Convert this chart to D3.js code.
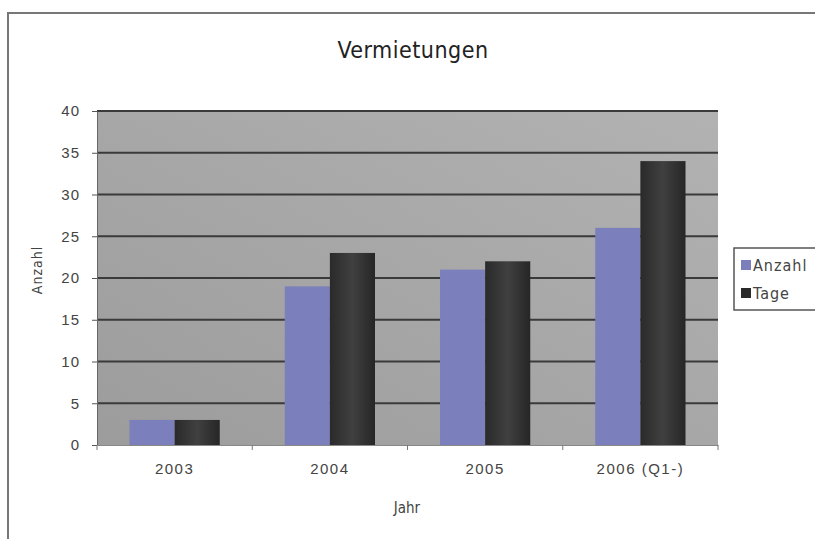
<!DOCTYPE html>
<html>
<head>
<meta charset="utf-8">
<script src="https://cdn.jsdelivr.net/npm/d3@7"></script>
<style>
  body { margin: 0; background: #fff; }
  svg { display: block; font-family: "DejaVu Sans Condensed", "Liberation Sans Narrow", sans-serif; }
</style>
</head>
<body>
<svg id="chart" width="815" height="539"></svg>
<script>
const categories = ['2003', '2004', '2005', '2006 (Q1-)'];
const seriesNames = ['Anzahl', 'Tage'];
const anzahl = [3, 19, 21, 26];
const tage = [3, 23, 22, 34];
const yTicks = [0, 5, 10, 15, 20, 25, 30, 35, 40];

const svg = d3.select('#chart');
const margin = { top: 111, right: 97, bottom: 94, left: 97 };
const width = 815 - margin.left - margin.right;
const height = 539 - margin.top - margin.bottom;

// outer frame
svg.append('rect')
  .attr('x', 8).attr('y', 13)
  .attr('width', 830).attr('height', 560)
  .attr('fill', 'none').attr('stroke', '#777').attr('stroke-width', 2);

const defs = svg.append('defs');
const bg = defs.append('linearGradient').attr('id', 'bg')
  .attr('x1', 0).attr('y1', 1).attr('x2', 1).attr('y2', 0);
bg.append('stop').attr('offset', 0).attr('stop-color', '#9c9c9c');
bg.append('stop').attr('offset', 1).attr('stop-color', '#b2b2b2');

const dark = defs.append('linearGradient').attr('id', 'dark')
  .attr('x1', 0).attr('x2', 1);
dark.append('stop').attr('offset', 0).attr('stop-color', '#2a2a2a');
dark.append('stop').attr('offset', 0.5).attr('stop-color', '#404040');
dark.append('stop').attr('offset', 1).attr('stop-color', '#262626');

const g = svg.append('g').attr('transform', `translate(${margin.left},${margin.top})`);

const x0 = d3.scaleBand().domain(categories).range([0, width]);
const x1 = d3.scaleBand().domain(seriesNames).range([0, x0.bandwidth()]).paddingInner(0).paddingOuter(0.72);
const y = d3.scaleLinear().domain([0, 40]).range([height, 0]);

g.append('rect').attr('width', width).attr('height', height).attr('fill', 'url(#bg)');

// gridlines
g.selectAll('.grid').data(yTicks.slice(1)).enter().append('line')
  .attr('x1', 0).attr('x2', width)
  .attr('y1', d => y(d)).attr('y2', d => y(d))
  .attr('stroke', '#3a3a3a').attr('stroke-width', 2);

const colors = { Anzahl: '#7b7fbb', Tage: 'url(#dark)' };
const data = categories.map((c, i) => ({ cat: c, values: [
  { key: 'Anzahl', v: anzahl[i] }, { key: 'Tage', v: tage[i] }] }));

g.selectAll('.grp').data(data).enter().append('g')
  .attr('transform', d => `translate(${x0(d.cat)},0)`)
  .selectAll('rect').data(d => d.values).enter().append('rect')
  .attr('x', d => x1(d.key))
  .attr('y', d => y(d.v))
  .attr('width', x1.bandwidth())
  .attr('height', d => height - y(d.v))
  .attr('fill', d => colors[d.key]);

// axes
const yAxis = g.append('g').call(d3.axisLeft(y).tickValues(yTicks).tickSize(5).tickSizeOuter(0));
yAxis.select('.domain').attr('stroke', '#666');
yAxis.selectAll('.tick line').attr('stroke', '#555');
yAxis.selectAll('text').attr('font-size', 15).attr('fill', '#444').attr('x', -17)
  .attr('letter-spacing', 1);

const xAxis = g.append('g').attr('transform', `translate(0,${height})`)
  .call(d3.axisBottom(x0).tickSize(0).tickSizeOuter(0));
xAxis.select('.domain').attr('stroke', '#888');
xAxis.selectAll('text').attr('font-size', 15).attr('fill', '#444').attr('dy', '1.75em')
  .attr('letter-spacing', 1.5);
const bounds = d3.range(categories.length + 1).map(i => i * x0.step());
xAxis.selectAll('.sep').data(bounds).enter().append('line')
  .attr('x1', d => d).attr('x2', d => d).attr('y1', 0).attr('y2', 5)
  .attr('stroke', '#777');

// titles
svg.append('text').attr('x', 413).attr('y', 58).attr('text-anchor', 'middle')
  .attr('font-size', 23).attr('fill', '#222').attr('letter-spacing', 0.5).text('Vermietungen');
svg.append('text').attr('transform', 'translate(42,270) rotate(-90)').attr('text-anchor', 'middle')
  .attr('font-size', 14).attr('fill', '#444').attr('letter-spacing', 1).text('Anzahl');
svg.append('text').attr('x', 407).attr('y', 513).attr('text-anchor', 'middle')
  .attr('font-size', 15).attr('fill', '#444').text('Jahr');

// legend
const leg = svg.append('g').attr('transform', 'translate(734,248)');
leg.append('rect').attr('width', 100).attr('height', 62)
  .attr('fill', '#fff').attr('stroke', '#555').attr('stroke-width', 1.5);
seriesNames.forEach((s, i) => {
  const row = leg.append('g').attr('transform', `translate(7,${12 + i * 28})`);
  row.append('rect').attr('width', 10).attr('height', 10).attr('fill', i === 0 ? '#7b7fbb' : '#2a2a2a');
  row.append('text').attr('x', 12).attr('y', 11).attr('font-size', 16).attr('fill', '#444')
    .attr('letter-spacing', 1).text(s);
});
</script>
</body>
</html>
